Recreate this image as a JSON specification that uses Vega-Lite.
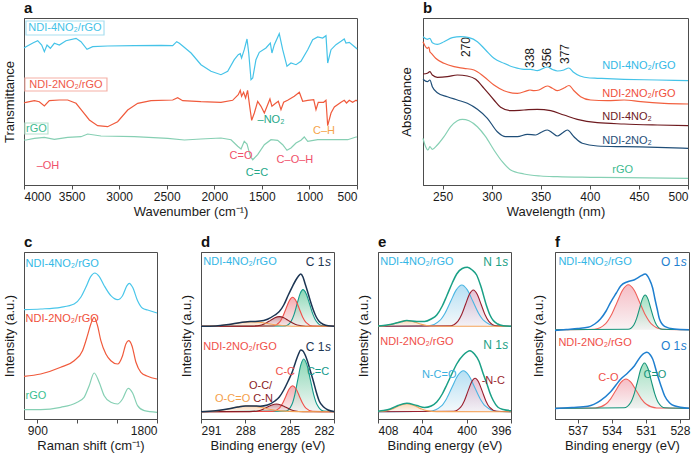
{
"$schema": "https://vega.github.io/schema/vega-lite/v6.json",
"autosize": {"type": "pad"},
"padding": {"left": 2, "top": 0, "right": 0, "bottom": 0},
"background": "white",
"config": {
  "font": "Liberation Sans",
  "view": {"stroke": "#4d4d4d", "strokeWidth": 1},
  "axis": {"grid": false, "labelFontSize": 12, "titleFontSize": 13, "titleFontWeight": "normal", "labelColor": "#1a1a1a", "titleColor": "#1a1a1a", "domainColor": "#4d4d4d", "tickColor": "#4d4d4d", "tickSize": 4, "labelPadding": 2, "titlePadding": 3, "labelFont": "Liberation Sans", "titleFont": "Liberation Sans"},
  "axisY": {"labels": false, "ticks": false, "titlePadding": 8},
  "title": {"anchor": "start", "fontSize": 15, "fontWeight": "bold", "offset": 2, "color": "#111111", "frame": "group", "font": "Liberation Sans"},
  "text": {"font": "Liberation Sans", "fontSize": 11}
},
"datasets": {
  "bandsA": [
    {"k":"OH","x":3814,"x2":3734},{"k":"C=O","x":1772,"x2":1719},{"k":"C=C","x":1632,"x2":1580},
    {"k":"NO2","x":1490,"x2":1452},{"k":"NO2","x":1420,"x2":1382},{"k":"C-O-H","x":1309,"x2":1201},
    {"k":"C-H","x":938,"x2":896},{"k":"C-H","x":826,"x2":773}
  ],
  "boxesA": [
    {"s":"4r","x":3979,"x2":3159,"y":164,"y2":150},
    {"s":"2r","x":3990,"x2":3128,"y":107,"y2":94},
    {"s":"r","x":3990,"x2":3748,"y":62,"y2":51}
  ],
  "labelsA": [
    {"t":"NDI-4NO₂/rGO","x":3569,"y":157,"k":"4r"},
    {"t":"NDI-2NO₂/rGO","x":3559,"y":100.5,"k":"2r"},
    {"t":"rGO","x":3869,"y":56.5,"k":"r"},
    {"t":"–OH","x":3748,"y":19,"k":"ox"},
    {"t":"C=O","x":1719,"y":29,"k":"ox"},
    {"t":"C=C","x":1551,"y":12,"k":"cc"},
    {"t":"–NO₂","x":1404,"y":65,"k":"cc"},
    {"t":"C–O–H","x":1152,"y":25,"k":"ox"},
    {"t":"C–H","x":847,"y":54,"k":"ch"}
  ],
  "ftir": [
    {"s":"4r","x":4000,"y":137},{"s":"4r","x":3979,"y":138.3},{"s":"4r","x":3902,"y":142.3},{"s":"4r","x":3856,"y":144.3},{"s":"4r","x":3814,"y":140},{"s":"4r","x":3786,"y":133.3},{"s":"4r","x":3758,"y":140},{"s":"4r","x":3723,"y":136.7},{"s":"4r","x":3681,"y":141.7},{"s":"4r","x":3629,"y":140},{"s":"4r","x":3559,"y":144.3},{"s":"4r","x":3453,"y":146.7},{"s":"4r","x":3401,"y":143.3},{"s":"4r","x":3338,"y":135.7},{"s":"4r","x":3278,"y":138.3},{"s":"4r","x":3121,"y":139},{"s":"4r","x":2840,"y":139.3},{"s":"4r","x":2560,"y":139.7},{"s":"4r","x":2437,"y":139.3},{"s":"4r","x":2395,"y":143.3},{"s":"4r","x":2367,"y":141.7},{"s":"4r","x":2332,"y":139},{"s":"4r","x":2244,"y":132},{"s":"4r","x":2140,"y":120.3},{"s":"4r","x":2035,"y":113.7},{"s":"4r","x":1930,"y":110.3},{"s":"4r","x":1859,"y":113.7},{"s":"4r","x":1790,"y":125.3},{"s":"4r","x":1748,"y":130.3},{"s":"4r","x":1727,"y":131.3},{"s":"4r","x":1713,"y":127},{"s":"4r","x":1685,"y":135.3},{"s":"4r","x":1656,"y":146},{"s":"4r","x":1638,"y":132},{"s":"4r","x":1614,"y":105.3},{"s":"4r","x":1596,"y":107},{"s":"4r","x":1562,"y":125.3},{"s":"4r","x":1527,"y":132.7},{"s":"4r","x":1457,"y":137},{"s":"4r","x":1411,"y":142},{"s":"4r","x":1394,"y":132},{"s":"4r","x":1369,"y":140.3},{"s":"4r","x":1317,"y":151.3},{"s":"4r","x":1281,"y":135.3},{"s":"4r","x":1236,"y":118.7},{"s":"4r","x":1194,"y":122},{"s":"4r","x":1141,"y":120.3},{"s":"4r","x":1089,"y":123.7},{"s":"4r","x":1018,"y":135.3},{"s":"4r","x":966,"y":145.3},{"s":"4r","x":913,"y":148},{"s":"4r","x":861,"y":147},{"s":"4r","x":826,"y":149.3},{"s":"4r","x":808,"y":122},{"s":"4r","x":773,"y":135.3},{"s":"4r","x":721,"y":140.3},{"s":"4r","x":668,"y":143.7},{"s":"4r","x":634,"y":146},{"s":"4r","x":616,"y":142},{"s":"4r","x":581,"y":142.7},{"s":"4r","x":510,"y":137},{"s":"4r","x":500,"y":136},
    {"s":"2r","x":4000,"y":82},{"s":"2r","x":3979,"y":82.7},{"s":"2r","x":3891,"y":84.3},{"s":"2r","x":3839,"y":83.3},{"s":"2r","x":3786,"y":79},{"s":"2r","x":3734,"y":84.3},{"s":"2r","x":3629,"y":85},{"s":"2r","x":3541,"y":85},{"s":"2r","x":3453,"y":81.7},{"s":"2r","x":3383,"y":73.3},{"s":"2r","x":3313,"y":65},{"s":"2r","x":3226,"y":59.3},{"s":"2r","x":3121,"y":58.3},{"s":"2r","x":3016,"y":63.3},{"s":"2r","x":2910,"y":75},{"s":"2r","x":2805,"y":81.7},{"s":"2r","x":2665,"y":84.3},{"s":"2r","x":2437,"y":85},{"s":"2r","x":2385,"y":87.3},{"s":"2r","x":2332,"y":84.3},{"s":"2r","x":2140,"y":83.3},{"s":"2r","x":1930,"y":82.7},{"s":"2r","x":1807,"y":84.7},{"s":"2r","x":1748,"y":90.3},{"s":"2r","x":1727,"y":94.7},{"s":"2r","x":1713,"y":88.7},{"s":"2r","x":1692,"y":92.7},{"s":"2r","x":1671,"y":87},{"s":"2r","x":1650,"y":94.7},{"s":"2r","x":1628,"y":78.7},{"s":"2r","x":1607,"y":64.7},{"s":"2r","x":1579,"y":72},{"s":"2r","x":1544,"y":83.7},{"s":"2r","x":1509,"y":78.7},{"s":"2r","x":1474,"y":72},{"s":"2r","x":1439,"y":80.3},{"s":"2r","x":1415,"y":86},{"s":"2r","x":1394,"y":78.7},{"s":"2r","x":1362,"y":81.3},{"s":"2r","x":1327,"y":83.7},{"s":"2r","x":1299,"y":75.3},{"s":"2r","x":1271,"y":82.7},{"s":"2r","x":1229,"y":84.7},{"s":"2r","x":1159,"y":88.7},{"s":"2r","x":1106,"y":92.7},{"s":"2r","x":1071,"y":83.7},{"s":"2r","x":1018,"y":84.7},{"s":"2r","x":955,"y":85.3},{"s":"2r","x":931,"y":75.3},{"s":"2r","x":907,"y":82.7},{"s":"2r","x":851,"y":82.7},{"s":"2r","x":826,"y":84.7},{"s":"2r","x":808,"y":59.3},{"s":"2r","x":773,"y":72},{"s":"2r","x":738,"y":78},{"s":"2r","x":668,"y":82.7},{"s":"2r","x":634,"y":84.7},{"s":"2r","x":610,"y":82},{"s":"2r","x":581,"y":84.7},{"s":"2r","x":546,"y":82.7},{"s":"2r","x":510,"y":84.7},{"s":"2r","x":500,"y":84},
    {"s":"r","x":4000,"y":45},{"s":"r","x":3979,"y":45},{"s":"r","x":3891,"y":46.7},{"s":"r","x":3786,"y":47.7},{"s":"r","x":3681,"y":45.7},{"s":"r","x":3541,"y":47.7},{"s":"r","x":3401,"y":48.3},{"s":"r","x":3331,"y":51},{"s":"r","x":3191,"y":49},{"s":"r","x":2840,"y":48.3},{"s":"r","x":2489,"y":46.7},{"s":"r","x":2314,"y":45},{"s":"r","x":2140,"y":46},{"s":"r","x":1930,"y":47},{"s":"r","x":1824,"y":45.3},{"s":"r","x":1754,"y":38.7},{"s":"r","x":1719,"y":36},{"s":"r","x":1685,"y":43.7},{"s":"r","x":1656,"y":41},{"s":"r","x":1621,"y":28.7},{"s":"r","x":1596,"y":25.3},{"s":"r","x":1544,"y":30.3},{"s":"r","x":1474,"y":40.3},{"s":"r","x":1404,"y":45.3},{"s":"r","x":1334,"y":44.7},{"s":"r","x":1281,"y":40.3},{"s":"r","x":1236,"y":34.7},{"s":"r","x":1194,"y":37},{"s":"r","x":1141,"y":42},{"s":"r","x":1089,"y":44.7},{"s":"r","x":1054,"y":48},{"s":"r","x":1018,"y":43.7},{"s":"r","x":913,"y":45.3},{"s":"r","x":738,"y":45.3},{"s":"r","x":598,"y":45.3},{"s":"r","x":510,"y":48},{"s":"r","x":500,"y":48}
  ],
  "bandsB": [{"k":"270","x":267.4,"x2":279.2},{"k":"338","x":335.6,"x2":342.1},{"k":"356","x":353.3,"x2":359.1},{"k":"377","x":372,"x2":377.7}],
  "bandLabB": [{"t":"270","x":273.5,"y":138},{"t":"338","x":339,"y":127},{"t":"356","x":356,"y":127},{"t":"377","x":375,"y":131}],
  "labelsB": [
    {"t":"NDI-4NO₂/rGO","x":412.7,"y":119,"s":"4r"},{"t":"NDI-2NO₂/rGO","x":412.7,"y":91,"s":"2r"},
    {"t":"NDI-4NO₂","x":412.7,"y":67.7,"s":"4"},{"t":"NDI-2NO₂","x":412.7,"y":44.3,"s":"2"},{"t":"rGO","x":422.9,"y":15,"s":"r"}
  ],
  "uv": [
    {"s":"4r","x":230,"y":148.3},{"s":"4r","x":234.4,"y":145.7},{"s":"4r","x":237,"y":146.7},{"s":"4r","x":239.5,"y":142.3},{"s":"4r","x":244.6,"y":140.7},{"s":"4r","x":251.4,"y":143.3},{"s":"4r","x":259.9,"y":147.3},{"s":"4r","x":268.4,"y":148.3},{"s":"4r","x":276.9,"y":147.3},{"s":"4r","x":285.4,"y":143.3},{"s":"4r","x":293.8,"y":135},{"s":"4r","x":302.3,"y":126.7},{"s":"4r","x":312.5,"y":121.7},{"s":"4r","x":322.7,"y":117.7},{"s":"4r","x":332.9,"y":115.7},{"s":"4r","x":339.7,"y":115.7},{"s":"4r","x":346.5,"y":114.3},{"s":"4r","x":356.7,"y":118},{"s":"4r","x":362,"y":115.5},{"s":"4r","x":367,"y":114},{"s":"4r","x":373.6,"y":115},{"s":"4r","x":378.5,"y":117},{"s":"4r","x":383,"y":113},{"s":"4r","x":390,"y":109},{"s":"4r","x":400,"y":107},{"s":"4r","x":407.6,"y":106.7},{"s":"4r","x":434.8,"y":105.7},{"s":"4r","x":468.8,"y":105},{"s":"4r","x":500,"y":104.3},
    {"s":"2r","x":230,"y":143.3},{"s":"2r","x":234.4,"y":136.7},{"s":"2r","x":236,"y":138},{"s":"2r","x":237,"y":133.3},{"s":"2r","x":238.5,"y":131.7},{"s":"2r","x":242.9,"y":126.7},{"s":"2r","x":251.4,"y":121.7},{"s":"2r","x":261.6,"y":118.3},{"s":"2r","x":271.8,"y":116.7},{"s":"2r","x":282,"y":115},{"s":"2r","x":292.2,"y":108.3},{"s":"2r","x":302.3,"y":100},{"s":"2r","x":312.5,"y":94.3},{"s":"2r","x":326.1,"y":91.7},{"s":"2r","x":336.3,"y":94.3},{"s":"2r","x":339,"y":95},{"s":"2r","x":343.1,"y":94.3},{"s":"2r","x":348.2,"y":95},{"s":"2r","x":356.7,"y":99},{"s":"2r","x":361.8,"y":96.7},{"s":"2r","x":366.9,"y":94.3},{"s":"2r","x":373.6,"y":97},{"s":"2r","x":378.8,"y":99.5},{"s":"2r","x":383.8,"y":94.3},{"s":"2r","x":390.6,"y":88.3},{"s":"2r","x":400.8,"y":85},{"s":"2r","x":417.8,"y":84.3},{"s":"2r","x":434.8,"y":85},{"s":"2r","x":451.8,"y":83.3},{"s":"2r","x":475.6,"y":81.7},{"s":"2r","x":500,"y":81},
    {"s":"4","x":230,"y":111},{"s":"4","x":234.4,"y":111.7},{"s":"4","x":237,"y":113.3},{"s":"4","x":239.5,"y":110},{"s":"4","x":244.6,"y":107.7},{"s":"4","x":254.8,"y":108.3},{"s":"4","x":265,"y":110},{"s":"4","x":275.2,"y":109},{"s":"4","x":283.7,"y":105.7},{"s":"4","x":292.2,"y":96.7},{"s":"4","x":302.3,"y":85},{"s":"4","x":309.1,"y":77.7},{"s":"4","x":319.3,"y":74.3},{"s":"4","x":332.9,"y":75},{"s":"4","x":346.5,"y":75.7},{"s":"4","x":360.1,"y":74.3},{"s":"4","x":373.6,"y":70},{"s":"4","x":387.2,"y":65.7},{"s":"4","x":407.6,"y":62.3},{"s":"4","x":434.8,"y":61},{"s":"4","x":468.8,"y":60},{"s":"4","x":500,"y":59.3},
    {"s":"2","x":230,"y":105.7},{"s":"2","x":234.4,"y":103.3},{"s":"2","x":237,"y":105},{"s":"2","x":239.5,"y":98.3},{"s":"2","x":244.6,"y":92.3},{"s":"2","x":254.8,"y":88.3},{"s":"2","x":265,"y":85},{"s":"2","x":275.2,"y":81.7},{"s":"2","x":285.4,"y":75.7},{"s":"2","x":295.6,"y":66.7},{"s":"2","x":305.7,"y":53.3},{"s":"2","x":314.2,"y":48.3},{"s":"2","x":326.1,"y":48.3},{"s":"2","x":336.3,"y":50.7},{"s":"2","x":344.8,"y":50},{"s":"2","x":351,"y":53},{"s":"2","x":356.7,"y":55},{"s":"2","x":362,"y":52},{"s":"2","x":366.9,"y":49},{"s":"2","x":372,"y":52},{"s":"2","x":377.1,"y":55},{"s":"2","x":383.8,"y":48.3},{"s":"2","x":392.3,"y":41.7},{"s":"2","x":407.6,"y":39},{"s":"2","x":434.8,"y":38.3},{"s":"2","x":468.8,"y":37.7},{"s":"2","x":500,"y":36.7},
    {"s":"r","x":230,"y":46.7},{"s":"r","x":232.7,"y":38.3},{"s":"r","x":235.1,"y":35},{"s":"r","x":237,"y":38.3},{"s":"r","x":239.5,"y":35.7},{"s":"r","x":244.6,"y":40},{"s":"r","x":251.4,"y":48.3},{"s":"r","x":258.2,"y":58.3},{"s":"r","x":265,"y":64.3},{"s":"r","x":270.1,"y":65.7},{"s":"r","x":276.9,"y":64.3},{"s":"r","x":285.4,"y":58.3},{"s":"r","x":293.8,"y":48.3},{"s":"r","x":302.3,"y":35},{"s":"r","x":310.8,"y":23.3},{"s":"r","x":319.3,"y":15},{"s":"r","x":332.9,"y":11},{"s":"r","x":349.9,"y":9},{"s":"r","x":366.9,"y":8.3},{"s":"r","x":400.8,"y":7.7},{"s":"r","x":434.8,"y":7.3},{"s":"r","x":500,"y":6.7}
  ],
  "labelsC": [{"t":"NDI-4NO₂/rGO","x":812,"y":155,"s":"4r"},{"t":"NDI-2NO₂/rGO","x":812,"y":100,"s":"2r"},{"t":"rGO","x":812,"y":23.3,"s":"r"}],
  "raman": [
    {"s":"4r","x":800,"y":109.3},{"s":"4r","x":925.6,"y":110},{"s":"4r","x":1076,"y":111.7},{"s":"4r","x":1177,"y":115},{"s":"4r","x":1227,"y":121.7},{"s":"4r","x":1265,"y":131.7},{"s":"4r","x":1302.5,"y":142.7},{"s":"4r","x":1332.7,"y":146},{"s":"4r","x":1365,"y":142.7},{"s":"4r","x":1403,"y":133.3},{"s":"4r","x":1453,"y":123.3},{"s":"4r","x":1503.5,"y":119.3},{"s":"4r","x":1541,"y":123.3},{"s":"4r","x":1574,"y":133.3},{"s":"4r","x":1591.5,"y":135.7},{"s":"4r","x":1616.6,"y":131.7},{"s":"4r","x":1654,"y":118.3},{"s":"4r","x":1692,"y":110.7},{"s":"4r","x":1729.6,"y":109},{"s":"4r","x":1800,"y":106},
    {"s":"2r","x":800,"y":42.7},{"s":"2r","x":925.6,"y":45},{"s":"2r","x":1076,"y":51.7},{"s":"2r","x":1177,"y":58.3},{"s":"2r","x":1240,"y":68.3},{"s":"2r","x":1277,"y":83.3},{"s":"2r","x":1302.5,"y":95},{"s":"2r","x":1327.6,"y":101.7},{"s":"2r","x":1352.8,"y":93.3},{"s":"2r","x":1377.9,"y":78.3},{"s":"2r","x":1415.6,"y":65},{"s":"2r","x":1453,"y":58.3},{"s":"2r","x":1503.5,"y":55},{"s":"2r","x":1541,"y":63.3},{"s":"2r","x":1566,"y":75},{"s":"2r","x":1586.4,"y":78.3},{"s":"2r","x":1611.5,"y":73.3},{"s":"2r","x":1641.7,"y":56.7},{"s":"2r","x":1679,"y":46.7},{"s":"2r","x":1729.6,"y":42.7},{"s":"2r","x":1800,"y":40},
    {"s":"r","x":800,"y":9.3},{"s":"r","x":925.6,"y":9.3},{"s":"r","x":1076,"y":11.7},{"s":"r","x":1189.4,"y":16},{"s":"r","x":1252,"y":21.7},{"s":"r","x":1290,"y":33.3},{"s":"r","x":1327.6,"y":46},{"s":"r","x":1365,"y":36.7},{"s":"r","x":1403,"y":23.3},{"s":"r","x":1453,"y":16.7},{"s":"r","x":1503.5,"y":15},{"s":"r","x":1541,"y":20},{"s":"r","x":1584,"y":30.7},{"s":"r","x":1616.6,"y":26},{"s":"r","x":1654,"y":13.3},{"s":"r","x":1704.5,"y":8.3},{"s":"r","x":1800,"y":6.7}
  ],
  "xpsD": [
    {"g":"t","k":"CdC","x":282,"y":92.7,"b":92.7},{"g":"t","k":"CdC","x":282.75,"y":93.1,"b":92.7},{"g":"t","k":"CdC","x":283.2,"y":97.7,"b":92.7},{"g":"t","k":"CdC","x":283.425,"y":104.6,"b":92.7},{"g":"t","k":"CdC","x":283.65,"y":115,"b":92.7},{"g":"t","k":"CdC","x":283.875,"y":125.1,"b":92.7},{"g":"t","k":"CdC","x":284.1,"y":129.4,"b":92.7},{"g":"t","k":"CdC","x":284.3,"y":125.1,"b":92.7},{"g":"t","k":"CdC","x":284.5,"y":115,"b":92.7},{"g":"t","k":"CdC","x":284.7,"y":104.6,"b":92.7},{"g":"t","k":"CdC","x":284.9,"y":97.7,"b":92.7},{"g":"t","k":"CdC","x":285.3,"y":93.1,"b":92.7},{"g":"t","k":"CdC","x":291,"y":92.7,"b":92.7},
    {"g":"t","k":"CC","x":282,"y":92.7,"b":92.7},{"g":"t","k":"CC","x":283.45,"y":93,"b":92.7},{"g":"t","k":"CC","x":283.9,"y":96.6,"b":92.7},{"g":"t","k":"CC","x":284.125,"y":102.1,"b":92.7},{"g":"t","k":"CC","x":284.35,"y":110.3,"b":92.7},{"g":"t","k":"CC","x":284.575,"y":118.3,"b":92.7},{"g":"t","k":"CC","x":284.8,"y":121.7,"b":92.7},{"g":"t","k":"CC","x":285.025,"y":118.3,"b":92.7},{"g":"t","k":"CC","x":285.25,"y":110.3,"b":92.7},{"g":"t","k":"CC","x":285.475,"y":102.1,"b":92.7},{"g":"t","k":"CC","x":285.7,"y":96.6,"b":92.7},{"g":"t","k":"CC","x":286.15,"y":93,"b":92.7},{"g":"t","k":"CC","x":291,"y":92.7,"b":92.7},
    {"g":"t","k":"OCN","x":282,"y":92.7,"b":92.7},{"g":"t","k":"OCN","x":283.9,"y":92.8,"b":92.7},{"g":"t","k":"OCN","x":284.5,"y":94,"b":92.7},{"g":"t","k":"OCN","x":284.8,"y":95.9,"b":92.7},{"g":"t","k":"OCN","x":285.1,"y":98.6,"b":92.7},{"g":"t","k":"OCN","x":285.4,"y":101.3,"b":92.7},{"g":"t","k":"OCN","x":285.7,"y":102.4,"b":92.7},{"g":"t","k":"OCN","x":286,"y":101.3,"b":92.7},{"g":"t","k":"OCN","x":286.3,"y":98.6,"b":92.7},{"g":"t","k":"OCN","x":286.6,"y":95.9,"b":92.7},{"g":"t","k":"OCN","x":286.9,"y":94,"b":92.7},{"g":"t","k":"OCN","x":287.5,"y":92.8,"b":92.7},{"g":"t","k":"OCN","x":291,"y":92.7,"b":92.7},
    {"g":"t","k":"OCO","x":282,"y":92.7,"b":92.7},{"g":"t","k":"OCO","x":284.3,"y":92.75,"b":92.7},{"g":"t","k":"OCO","x":285.4,"y":93.3,"b":92.7},{"g":"t","k":"OCO","x":285.95,"y":94.2,"b":92.7},{"g":"t","k":"OCO","x":286.5,"y":95.5,"b":92.7},{"g":"t","k":"OCO","x":287.05,"y":96.8,"b":92.7},{"g":"t","k":"OCO","x":287.6,"y":97.4,"b":92.7},{"g":"t","k":"OCO","x":288.15,"y":96.8,"b":92.7},{"g":"t","k":"OCO","x":288.7,"y":95.5,"b":92.7},{"g":"t","k":"OCO","x":289.25,"y":94.2,"b":92.7},{"g":"t","k":"OCO","x":289.8,"y":93.3,"b":92.7},{"g":"t","k":"OCO","x":290.9,"y":92.75,"b":92.7},{"g":"t","k":"OCO","x":291,"y":92.7,"b":92.7},
    {"g":"t","k":"env","x":291,"y":92.7,"b":92.7},{"g":"t","k":"env","x":290,"y":93.1,"b":92.7},{"g":"t","k":"env","x":289,"y":94.8,"b":92.7},{"g":"t","k":"env","x":288.5,"y":96.1,"b":92.7},{"g":"t","k":"env","x":288,"y":97.1,"b":92.7},{"g":"t","k":"env","x":287.5,"y":97.5,"b":92.7},{"g":"t","k":"env","x":287,"y":97.9,"b":92.7},{"g":"t","k":"env","x":286.5,"y":99.8,"b":92.7},{"g":"t","k":"env","x":286,"y":104,"b":92.7},{"g":"t","k":"env","x":285.7,"y":107.4,"b":92.7},{"g":"t","k":"env","x":285.4,"y":114,"b":92.7},{"g":"t","k":"env","x":285.1,"y":123.7,"b":92.7},{"g":"t","k":"env","x":284.8,"y":132.9,"b":92.7},{"g":"t","k":"env","x":284.6,"y":138.5,"b":92.7},{"g":"t","k":"env","x":284.4,"y":143,"b":92.7},{"g":"t","k":"env","x":284.25,"y":145,"b":92.7},{"g":"t","k":"env","x":284.1,"y":142,"b":92.7},{"g":"t","k":"env","x":283.95,"y":135,"b":92.7},{"g":"t","k":"env","x":283.8,"y":128,"b":92.7},{"g":"t","k":"env","x":283.6,"y":118,"b":92.7},{"g":"t","k":"env","x":283.4,"y":109,"b":92.7},{"g":"t","k":"env","x":283.2,"y":102,"b":92.7},{"g":"t","k":"env","x":283,"y":97.5,"b":92.7},{"g":"t","k":"env","x":282.7,"y":94.5,"b":92.7},{"g":"t","k":"env","x":282.4,"y":93.2,"b":92.7},{"g":"t","k":"env","x":282,"y":92.7,"b":92.7},
    {"g":"b","k":"CdC","x":282,"y":7.3,"b":7.3},{"g":"b","k":"CdC","x":282.7,"y":7.9,"b":7.3},{"g":"b","k":"CdC","x":283.15,"y":14.4,"b":7.3},{"g":"b","k":"CdC","x":283.375,"y":24.4,"b":7.3},{"g":"b","k":"CdC","x":283.6,"y":39.3,"b":7.3},{"g":"b","k":"CdC","x":283.825,"y":53.8,"b":7.3},{"g":"b","k":"CdC","x":284.05,"y":60,"b":7.3},{"g":"b","k":"CdC","x":284.25,"y":53.8,"b":7.3},{"g":"b","k":"CdC","x":284.45,"y":39.3,"b":7.3},{"g":"b","k":"CdC","x":284.65,"y":24.4,"b":7.3},{"g":"b","k":"CdC","x":284.85,"y":14.4,"b":7.3},{"g":"b","k":"CdC","x":285.25,"y":7.9,"b":7.3},{"g":"b","k":"CdC","x":291,"y":7.3,"b":7.3},
    {"g":"b","k":"CC","x":282,"y":7.3,"b":7.3},{"g":"b","k":"CC","x":283.45,"y":7.6,"b":7.3},{"g":"b","k":"CC","x":283.9,"y":10.8,"b":7.3},{"g":"b","k":"CC","x":284.125,"y":15.7,"b":7.3},{"g":"b","k":"CC","x":284.35,"y":23.1,"b":7.3},{"g":"b","k":"CC","x":284.575,"y":30.2,"b":7.3},{"g":"b","k":"CC","x":284.8,"y":33.3,"b":7.3},{"g":"b","k":"CC","x":285.025,"y":30.2,"b":7.3},{"g":"b","k":"CC","x":285.25,"y":23.1,"b":7.3},{"g":"b","k":"CC","x":285.475,"y":15.7,"b":7.3},{"g":"b","k":"CC","x":285.7,"y":10.8,"b":7.3},{"g":"b","k":"CC","x":286.15,"y":7.6,"b":7.3},{"g":"b","k":"CC","x":291,"y":7.3,"b":7.3},
    {"g":"b","k":"OCN","x":282,"y":7.3,"b":7.3},{"g":"b","k":"OCN","x":284.1,"y":7.4,"b":7.3},{"g":"b","k":"OCN","x":284.7,"y":8.3,"b":7.3},{"g":"b","k":"OCN","x":285,"y":9.8,"b":7.3},{"g":"b","k":"OCN","x":285.3,"y":12,"b":7.3},{"g":"b","k":"OCN","x":285.6,"y":14.1,"b":7.3},{"g":"b","k":"OCN","x":285.9,"y":15,"b":7.3},{"g":"b","k":"OCN","x":286.2,"y":14.1,"b":7.3},{"g":"b","k":"OCN","x":286.5,"y":12,"b":7.3},{"g":"b","k":"OCN","x":286.8,"y":9.8,"b":7.3},{"g":"b","k":"OCN","x":287.1,"y":8.3,"b":7.3},{"g":"b","k":"OCN","x":287.7,"y":7.4,"b":7.3},{"g":"b","k":"OCN","x":291,"y":7.3,"b":7.3},
    {"g":"b","k":"OCO","x":282,"y":7.3,"b":7.3},{"g":"b","k":"OCO","x":284.5,"y":7.4,"b":7.3},{"g":"b","k":"OCO","x":285.6,"y":8.1,"b":7.3},{"g":"b","k":"OCO","x":286.15,"y":9.2,"b":7.3},{"g":"b","k":"OCO","x":286.7,"y":10.9,"b":7.3},{"g":"b","k":"OCO","x":287.25,"y":12.6,"b":7.3},{"g":"b","k":"OCO","x":287.8,"y":13.3,"b":7.3},{"g":"b","k":"OCO","x":288.35,"y":12.6,"b":7.3},{"g":"b","k":"OCO","x":288.9,"y":10.9,"b":7.3},{"g":"b","k":"OCO","x":289.45,"y":9.2,"b":7.3},{"g":"b","k":"OCO","x":290,"y":8.1,"b":7.3},{"g":"b","k":"OCO","x":291,"y":7.4,"b":7.3},
    {"g":"b","k":"env","x":291,"y":7.3,"b":7.3},{"g":"b","k":"env","x":290,"y":8.3,"b":7.3},{"g":"b","k":"env","x":289,"y":10.5,"b":7.3},{"g":"b","k":"env","x":288.5,"y":12,"b":7.3},{"g":"b","k":"env","x":288,"y":13,"b":7.3},{"g":"b","k":"env","x":287.5,"y":13,"b":7.3},{"g":"b","k":"env","x":287,"y":12.8,"b":7.3},{"g":"b","k":"env","x":286.5,"y":14,"b":7.3},{"g":"b","k":"env","x":286,"y":18,"b":7.3},{"g":"b","k":"env","x":285.7,"y":22,"b":7.3},{"g":"b","k":"env","x":285.4,"y":29,"b":7.3},{"g":"b","k":"env","x":285.1,"y":38,"b":7.3},{"g":"b","k":"env","x":284.8,"y":48,"b":7.3},{"g":"b","k":"env","x":284.6,"y":57,"b":7.3},{"g":"b","k":"env","x":284.4,"y":65,"b":7.3},{"g":"b","k":"env","x":284.25,"y":69,"b":7.3},{"g":"b","k":"env","x":284.1,"y":68,"b":7.3},{"g":"b","k":"env","x":283.95,"y":64,"b":7.3},{"g":"b","k":"env","x":283.8,"y":58,"b":7.3},{"g":"b","k":"env","x":283.6,"y":48,"b":7.3},{"g":"b","k":"env","x":283.4,"y":38,"b":7.3},{"g":"b","k":"env","x":283.2,"y":27,"b":7.3},{"g":"b","k":"env","x":283,"y":18,"b":7.3},{"g":"b","k":"env","x":282.7,"y":12,"b":7.3},{"g":"b","k":"env","x":282.4,"y":9,"b":7.3},{"g":"b","k":"env","x":282,"y":7.5,"b":7.3}
  ],
  "headD": [{"t":"NDI-4NO₂/rGO","x":290.84,"y":156.7,"k":"4r"},{"t":"NDI-2NO₂/rGO","x":290.84,"y":71.7,"k":"2r"}],
  "specD": [{"t":"C 1","x":282.2,"y":156.7},{"t":"C 1","x":282.2,"y":71.7}],
  "compD": [{"t":"C-C","x":285.3,"y":46.7,"k":"CC"},{"t":"C=C","x":283.08,"y":46.7,"k":"CdC"},{"t":"O-C/","x":286.97,"y":33.3,"k":"OCN"},{"t":"C-N","x":286.8,"y":20,"k":"OCN"},{"t":"O-C=O","x":288.86,"y":20,"k":"OCO"}],
  "xpsE": [
    {"g":"t","k":"NCO","x":396,"y":92.7,"b":92.7},{"g":"t","k":"NCO","x":397.44,"y":93.2,"b":92.7},{"g":"t","k":"NCO","x":398.44,"y":98.3,"b":92.7},{"g":"t","k":"NCO","x":398.94,"y":106.1,"b":92.7},{"g":"t","k":"NCO","x":399.44,"y":117.7,"b":92.7},{"g":"t","k":"NCO","x":399.94,"y":129.1,"b":92.7},{"g":"t","k":"NCO","x":400.44,"y":134,"b":92.7},{"g":"t","k":"NCO","x":400.94,"y":129.1,"b":92.7},{"g":"t","k":"NCO","x":401.44,"y":117.7,"b":92.7},{"g":"t","k":"NCO","x":401.94,"y":106.1,"b":92.7},{"g":"t","k":"NCO","x":402.44,"y":98.3,"b":92.7},{"g":"t","k":"NCO","x":403.44,"y":93.2,"b":92.7},{"g":"t","k":"NCO","x":408,"y":92.7,"b":92.7},
    {"g":"t","k":"NC","x":396,"y":92.7,"b":92.7},{"g":"t","k":"NC","x":397.3,"y":93.1,"b":92.7},{"g":"t","k":"NC","x":398,"y":97.6,"b":92.7},{"g":"t","k":"NC","x":398.35,"y":104.5,"b":92.7},{"g":"t","k":"NC","x":398.7,"y":114.7,"b":92.7},{"g":"t","k":"NC","x":399.05,"y":124.7,"b":92.7},{"g":"t","k":"NC","x":399.4,"y":129,"b":92.7},{"g":"t","k":"NC","x":399.75,"y":124.7,"b":92.7},{"g":"t","k":"NC","x":400.1,"y":114.7,"b":92.7},{"g":"t","k":"NC","x":400.45,"y":104.5,"b":92.7},{"g":"t","k":"NC","x":400.8,"y":97.6,"b":92.7},{"g":"t","k":"NC","x":401.5,"y":93.1,"b":92.7},{"g":"t","k":"NC","x":408,"y":92.7,"b":92.7},
    {"g":"t","k":"sat","x":396,"y":92.7,"b":92.7},{"g":"t","k":"sat","x":402.7,"y":92.8,"b":92.7},{"g":"t","k":"sat","x":403.6,"y":93.5,"b":92.7},{"g":"t","k":"sat","x":404.05,"y":94.6,"b":92.7},{"g":"t","k":"sat","x":404.5,"y":96.2,"b":92.7},{"g":"t","k":"sat","x":404.95,"y":97.7,"b":92.7},{"g":"t","k":"sat","x":405.4,"y":98.4,"b":92.7},{"g":"t","k":"sat","x":405.85,"y":97.7,"b":92.7},{"g":"t","k":"sat","x":406.3,"y":96.2,"b":92.7},{"g":"t","k":"sat","x":406.75,"y":94.6,"b":92.7},{"g":"t","k":"sat","x":407.2,"y":93.5,"b":92.7},{"g":"t","k":"sat","x":408,"y":92.8,"b":92.7},
    {"g":"t","k":"env","x":408,"y":93,"b":92.7},{"g":"t","k":"env","x":407.5,"y":93.5,"b":92.7},{"g":"t","k":"env","x":406.9,"y":94.5,"b":92.7},{"g":"t","k":"env","x":406,"y":97,"b":92.7},{"g":"t","k":"env","x":405.4,"y":98.5,"b":92.7},{"g":"t","k":"env","x":404.5,"y":97.5,"b":92.7},{"g":"t","k":"env","x":403.8,"y":97.5,"b":92.7},{"g":"t","k":"env","x":403.2,"y":100,"b":92.7},{"g":"t","k":"env","x":402.7,"y":104,"b":92.7},{"g":"t","k":"env","x":402.2,"y":113,"b":92.7},{"g":"t","k":"env","x":401.8,"y":123,"b":92.7},{"g":"t","k":"env","x":401.3,"y":136,"b":92.7},{"g":"t","k":"env","x":400.9,"y":145,"b":92.7},{"g":"t","k":"env","x":400.4,"y":150.5,"b":92.7},{"g":"t","k":"env","x":399.93,"y":151.7,"b":92.7},{"g":"t","k":"env","x":399.5,"y":149,"b":92.7},{"g":"t","k":"env","x":399.1,"y":144,"b":92.7},{"g":"t","k":"env","x":398.7,"y":132,"b":92.7},{"g":"t","k":"env","x":398.2,"y":113,"b":92.7},{"g":"t","k":"env","x":397.9,"y":104,"b":92.7},{"g":"t","k":"env","x":397.6,"y":98.5,"b":92.7},{"g":"t","k":"env","x":397.2,"y":95,"b":92.7},{"g":"t","k":"env","x":396.7,"y":93.3,"b":92.7},{"g":"t","k":"env","x":396,"y":92.7,"b":92.7},
    {"g":"b","k":"NCO","x":396,"y":7.3,"b":7.3},{"g":"b","k":"NCO","x":397.3,"y":7.8,"b":7.3},{"g":"b","k":"NCO","x":398.3,"y":12.8,"b":7.3},{"g":"b","k":"NCO","x":398.8,"y":20.6,"b":7.3},{"g":"b","k":"NCO","x":399.3,"y":32.2,"b":7.3},{"g":"b","k":"NCO","x":399.8,"y":43.5,"b":7.3},{"g":"b","k":"NCO","x":400.3,"y":48.3,"b":7.3},{"g":"b","k":"NCO","x":400.8,"y":43.5,"b":7.3},{"g":"b","k":"NCO","x":401.3,"y":32.2,"b":7.3},{"g":"b","k":"NCO","x":401.8,"y":20.6,"b":7.3},{"g":"b","k":"NCO","x":402.3,"y":12.8,"b":7.3},{"g":"b","k":"NCO","x":403.3,"y":7.8,"b":7.3},{"g":"b","k":"NCO","x":408,"y":7.3,"b":7.3},
    {"g":"b","k":"NC","x":396,"y":7.3,"b":7.3},{"g":"b","k":"NC","x":397.29,"y":7.7,"b":7.3},{"g":"b","k":"NC","x":397.94,"y":11.8,"b":7.3},{"g":"b","k":"NC","x":398.265,"y":18.1,"b":7.3},{"g":"b","k":"NC","x":398.59,"y":27.6,"b":7.3},{"g":"b","k":"NC","x":398.915,"y":36.8,"b":7.3},{"g":"b","k":"NC","x":399.24,"y":40.7,"b":7.3},{"g":"b","k":"NC","x":399.565,"y":36.8,"b":7.3},{"g":"b","k":"NC","x":399.89,"y":27.6,"b":7.3},{"g":"b","k":"NC","x":400.215,"y":18.1,"b":7.3},{"g":"b","k":"NC","x":400.54,"y":11.8,"b":7.3},{"g":"b","k":"NC","x":401.19,"y":7.7,"b":7.3},{"g":"b","k":"NC","x":408,"y":7.3,"b":7.3},
    {"g":"b","k":"sat","x":396,"y":7.3,"b":7.3},{"g":"b","k":"sat","x":402.7,"y":7.4,"b":7.3},{"g":"b","k":"sat","x":403.6,"y":8.4,"b":7.3},{"g":"b","k":"sat","x":404.05,"y":9.9,"b":7.3},{"g":"b","k":"sat","x":404.5,"y":12.2,"b":7.3},{"g":"b","k":"sat","x":404.95,"y":14.4,"b":7.3},{"g":"b","k":"sat","x":405.4,"y":15.3,"b":7.3},{"g":"b","k":"sat","x":405.85,"y":14.4,"b":7.3},{"g":"b","k":"sat","x":406.3,"y":12.2,"b":7.3},{"g":"b","k":"sat","x":406.75,"y":9.9,"b":7.3},{"g":"b","k":"sat","x":407.2,"y":8.4,"b":7.3},{"g":"b","k":"sat","x":408,"y":7.5,"b":7.3},
    {"g":"b","k":"env","x":408,"y":7.8,"b":7.3},{"g":"b","k":"env","x":407.5,"y":8.5,"b":7.3},{"g":"b","k":"env","x":406.9,"y":10,"b":7.3},{"g":"b","k":"env","x":406.2,"y":13.5,"b":7.3},{"g":"b","k":"env","x":405.4,"y":15.8,"b":7.3},{"g":"b","k":"env","x":404.5,"y":13.5,"b":7.3},{"g":"b","k":"env","x":403.8,"y":11.5,"b":7.3},{"g":"b","k":"env","x":403.2,"y":13,"b":7.3},{"g":"b","k":"env","x":402.7,"y":17,"b":7.3},{"g":"b","k":"env","x":402.2,"y":25,"b":7.3},{"g":"b","k":"env","x":401.8,"y":34,"b":7.3},{"g":"b","k":"env","x":401.3,"y":46,"b":7.3},{"g":"b","k":"env","x":400.9,"y":55,"b":7.3},{"g":"b","k":"env","x":400.3,"y":64,"b":7.3},{"g":"b","k":"env","x":399.7,"y":68.3,"b":7.3},{"g":"b","k":"env","x":399.3,"y":65,"b":7.3},{"g":"b","k":"env","x":398.9,"y":58,"b":7.3},{"g":"b","k":"env","x":398.5,"y":45,"b":7.3},{"g":"b","k":"env","x":398.2,"y":36,"b":7.3},{"g":"b","k":"env","x":397.9,"y":26,"b":7.3},{"g":"b","k":"env","x":397.6,"y":18.5,"b":7.3},{"g":"b","k":"env","x":397.2,"y":12,"b":7.3},{"g":"b","k":"env","x":396.7,"y":9.5,"b":7.3},{"g":"b","k":"env","x":396,"y":8.3,"b":7.3}
  ],
  "headE": [{"t":"NDI-4NO₂/rGO","x":407.8,"y":156.7,"k":"4r"},{"t":"NDI-2NO₂/rGO","x":407.8,"y":76.7,"k":"2r"}],
  "specE": [{"t":"N 1","x":396.24,"y":156.7},{"t":"N 1","x":396.24,"y":74}],
  "compE": [{"t":"N-C=O","x":402.48,"y":44.3,"k":"NCO"},{"t":"-N-C","x":397.6,"y":38.3,"k":"NC"}],
  "xpsF": [
    {"g":"t","k":"CO","x":527.2,"y":89.3,"b":89.3},{"g":"t","k":"CO","x":529.54,"y":89.8,"b":89.3},{"g":"t","k":"CO","x":530.54,"y":95.4,"b":89.3},{"g":"t","k":"CO","x":531.04,"y":103.9,"b":89.3},{"g":"t","k":"CO","x":531.54,"y":116.6,"b":89.3},{"g":"t","k":"CO","x":532.04,"y":129,"b":89.3},{"g":"t","k":"CO","x":532.54,"y":134.3,"b":89.3},{"g":"t","k":"CO","x":533.04,"y":129,"b":89.3},{"g":"t","k":"CO","x":533.54,"y":116.6,"b":89.3},{"g":"t","k":"CO","x":534.04,"y":103.9,"b":89.3},{"g":"t","k":"CO","x":534.54,"y":95.4,"b":89.3},{"g":"t","k":"CO","x":535.54,"y":89.8,"b":89.3},{"g":"t","k":"CO","x":539,"y":89.3,"b":89.3},
    {"g":"t","k":"CdO","x":527.2,"y":89.3,"b":89.3},{"g":"t","k":"CdO","x":529.56,"y":89.7,"b":89.3},{"g":"t","k":"CdO","x":530.06,"y":94,"b":89.3},{"g":"t","k":"CdO","x":530.31,"y":100.6,"b":89.3},{"g":"t","k":"CdO","x":530.56,"y":110.3,"b":89.3},{"g":"t","k":"CdO","x":530.81,"y":119.9,"b":89.3},{"g":"t","k":"CdO","x":531.06,"y":124,"b":89.3},{"g":"t","k":"CdO","x":531.31,"y":119.9,"b":89.3},{"g":"t","k":"CdO","x":531.56,"y":110.3,"b":89.3},{"g":"t","k":"CdO","x":531.81,"y":100.6,"b":89.3},{"g":"t","k":"CdO","x":532.06,"y":94,"b":89.3},{"g":"t","k":"CdO","x":532.56,"y":89.7,"b":89.3},{"g":"t","k":"CdO","x":539,"y":89.3,"b":89.3},
    {"g":"t","k":"env","x":539,"y":88.5,"b":89.3},{"g":"t","k":"env","x":538,"y":89.5,"b":89.3},{"g":"t","k":"env","x":537,"y":90.5,"b":89.3},{"g":"t","k":"env","x":536.1,"y":91.7,"b":89.3},{"g":"t","k":"env","x":535.5,"y":95,"b":89.3},{"g":"t","k":"env","x":535,"y":100,"b":89.3},{"g":"t","k":"env","x":534.5,"y":108,"b":89.3},{"g":"t","k":"env","x":534.1,"y":116.7,"b":89.3},{"g":"t","k":"env","x":533.6,"y":126,"b":89.3},{"g":"t","k":"env","x":533.2,"y":133.3,"b":89.3},{"g":"t","k":"env","x":532.6,"y":137.3,"b":89.3},{"g":"t","k":"env","x":532,"y":139.3,"b":89.3},{"g":"t","k":"env","x":531.4,"y":143.3,"b":89.3},{"g":"t","k":"env","x":531.06,"y":145,"b":89.3},{"g":"t","k":"env","x":530.7,"y":140,"b":89.3},{"g":"t","k":"env","x":530.4,"y":131,"b":89.3},{"g":"t","k":"env","x":530.2,"y":120,"b":89.3},{"g":"t","k":"env","x":530,"y":110,"b":89.3},{"g":"t","k":"env","x":529.8,"y":100,"b":89.3},{"g":"t","k":"env","x":529.35,"y":92.7,"b":89.3},{"g":"t","k":"env","x":528.5,"y":90,"b":89.3},{"g":"t","k":"env","x":527.2,"y":89.3,"b":89.3},
    {"g":"b","k":"CO","x":527.2,"y":10.7,"b":10.7},{"g":"b","k":"CO","x":530.05,"y":11,"b":10.7},{"g":"b","k":"CO","x":530.95,"y":14.7,"b":10.7},{"g":"b","k":"CO","x":531.4,"y":20.2,"b":10.7},{"g":"b","k":"CO","x":531.85,"y":28.5,"b":10.7},{"g":"b","k":"CO","x":532.3,"y":36.6,"b":10.7},{"g":"b","k":"CO","x":532.75,"y":40,"b":10.7},{"g":"b","k":"CO","x":533.2,"y":36.6,"b":10.7},{"g":"b","k":"CO","x":533.65,"y":28.5,"b":10.7},{"g":"b","k":"CO","x":534.1,"y":20.2,"b":10.7},{"g":"b","k":"CO","x":534.55,"y":14.7,"b":10.7},{"g":"b","k":"CO","x":535.45,"y":11,"b":10.7},{"g":"b","k":"CO","x":539,"y":10.7,"b":10.7},
    {"g":"b","k":"CdO","x":527.2,"y":10.7,"b":10.7},{"g":"b","k":"CdO","x":529.32,"y":11.2,"b":10.7},{"g":"b","k":"CdO","x":529.92,"y":16.8,"b":10.7},{"g":"b","k":"CdO","x":530.22,"y":25.4,"b":10.7},{"g":"b","k":"CdO","x":530.52,"y":38.2,"b":10.7},{"g":"b","k":"CdO","x":530.82,"y":50.7,"b":10.7},{"g":"b","k":"CdO","x":531.12,"y":56,"b":10.7},{"g":"b","k":"CdO","x":531.42,"y":50.7,"b":10.7},{"g":"b","k":"CdO","x":531.72,"y":38.2,"b":10.7},{"g":"b","k":"CdO","x":532.02,"y":25.4,"b":10.7},{"g":"b","k":"CdO","x":532.32,"y":16.8,"b":10.7},{"g":"b","k":"CdO","x":532.92,"y":11.2,"b":10.7},{"g":"b","k":"CdO","x":539,"y":10.7,"b":10.7},
    {"g":"b","k":"env","x":539,"y":10.5,"b":10.7},{"g":"b","k":"env","x":537.5,"y":11.5,"b":10.7},{"g":"b","k":"env","x":536.1,"y":12.7,"b":10.7},{"g":"b","k":"env","x":535,"y":18.3,"b":10.7},{"g":"b","k":"env","x":534.1,"y":27.3,"b":10.7},{"g":"b","k":"env","x":533.2,"y":40,"b":10.7},{"g":"b","k":"env","x":532.6,"y":46,"b":10.7},{"g":"b","k":"env","x":532,"y":53.3,"b":10.7},{"g":"b","k":"env","x":531.4,"y":63.3,"b":10.7},{"g":"b","k":"env","x":530.9,"y":66.7,"b":10.7},{"g":"b","k":"env","x":530.6,"y":64,"b":10.7},{"g":"b","k":"env","x":530.4,"y":60,"b":10.7},{"g":"b","k":"env","x":530,"y":45,"b":10.7},{"g":"b","k":"env","x":529.6,"y":31,"b":10.7},{"g":"b","k":"env","x":529.35,"y":23.3,"b":10.7},{"g":"b","k":"env","x":528.9,"y":16,"b":10.7},{"g":"b","k":"env","x":528.5,"y":13.3,"b":10.7},{"g":"b","k":"env","x":527.2,"y":10.7,"b":10.7}
  ],
  "headF": [{"t":"NDI-4NO₂/rGO","x":538.7,"y":156.7,"k":"4r"},{"t":"NDI-2NO₂/rGO","x":538.7,"y":76,"k":"2r"}],
  "specF": [{"t":"O 1","x":527.4,"y":156.7},{"t":"O 1","x":527.4,"y":73.3}],
  "compF": [{"t":"C-O","x":534.3,"y":40.7,"k":"CO"},{"t":"C=O","x":530.2,"y":44,"k":"CdO"}]
},
"vconcat": [
  {
    "hconcat": [
      {
        "width": 333, "height": 167, "title": "a",
        "encoding": {
          "x": {"field": "x", "type": "quantitative", "scale": {"domain": [4000, 500], "nice": false, "zero": false}, "axis": {"values": [4000, 3500, 3000, 2500, 2000, 1500, 1000, 500], "format": "d", "title": "Wavenumber (cm⁻¹)"}},
          "y": {"field": "y", "type": "quantitative", "scale": {"domain": [0, 167], "nice": false, "zero": false}, "axis": {"title": "Transmittance"}}
        },
        "layer": [
          {"data": {"name": "bandsA"}, "mark": {"type": "rect", "opacity": 0.6},
           "encoding": {"x2": {"field": "x2"}, "y": {"datum": 167, "type": "quantitative", "scale": {"domain": [0, 167], "nice": false, "zero": false}, "title": "Transmittance"}, "y2": {"datum": 0},
             "color": {"field": "k", "type": "nominal", "legend": null, "scale": {"domain": ["OH", "C=O", "C=C", "NO2", "C-O-H", "C-H"], "range": ["#f7c6d8", "#f7c6d8", "#c9eef7", "#c9eef7", "#f7c6d8", "#fbe8c2"]}}}},
          {"data": {"name": "boxesA"}, "mark": {"type": "rect", "filled": false, "strokeWidth": 1.2},
           "encoding": {"x2": {"field": "x2"}, "y2": {"field": "y2"},
             "color": {"field": "s", "type": "nominal", "legend": null, "scale": {"domain": ["4r", "2r", "r"], "range": ["#a9dff0", "#f5b0a6", "#b5e2cd"]}}}},
          {"data": {"name": "ftir"}, "mark": {"type": "line", "strokeWidth": 1.2},
           "encoding": {"color": {"field": "s", "type": "nominal", "legend": null, "scale": {"domain": ["4r", "2r", "r"], "range": ["#45c3e8", "#f05a3c", "#86cfb3"]}}}},
          {"data": {"name": "labelsA"}, "mark": {"type": "text", "fontSize": 11},
           "encoding": {"text": {"field": "t"},
             "color": {"field": "k", "type": "nominal", "legend": null, "scale": {"domain": ["4r", "2r", "r", "ox", "cc", "ch"], "range": ["#45c3e8", "#f05a4a", "#3dbb8f", "#f0506a", "#25a889", "#f5a34a"]}}}}
        ],
        "resolve": {"scale": {"color": "independent"}}
      },
      {
        "width": 265, "height": 167, "title": "b",
        "encoding": {
          "x": {"field": "x", "type": "quantitative", "scale": {"domain": [230, 500], "nice": false, "zero": false}, "axis": {"values": [250, 300, 350, 400, 450, 500], "title": "Wavelength (nm)"}},
          "y": {"field": "y", "type": "quantitative", "scale": {"domain": [0, 167], "nice": false, "zero": false}, "axis": {"title": "Absorbance", "titlePadding": 10}}
        },
        "layer": [
          {"data": {"name": "bandsB"}, "mark": {"type": "rect", "opacity": 0.6},
           "encoding": {"x2": {"field": "x2"}, "y": {"datum": 167, "type": "quantitative", "scale": {"domain": [0, 167], "nice": false, "zero": false}, "title": "Absorbance"}, "y2": {"datum": 0},
             "color": {"field": "k", "type": "nominal", "legend": null, "scale": {"domain": ["270", "338", "356", "377"], "range": ["#f7c6d8", "#dcc6f2", "#c9eef7", "#fbe8c2"]}}}},
          {"data": {"name": "bandLabB"}, "mark": {"type": "text", "angle": 270, "fontSize": 12, "color": "#1a1a1a"},
           "encoding": {"text": {"field": "t"}}},
          {"data": {"name": "uv"}, "mark": {"type": "line", "strokeWidth": 1.2, "interpolate": "monotone"},
           "encoding": {"color": {"field": "s", "type": "nominal", "legend": null, "scale": {"domain": ["4r", "2r", "4", "2", "r"], "range": ["#45c3e8", "#f2603f", "#6e1a1f", "#1f4e78", "#86d0b4"]}}}},
          {"data": {"name": "labelsB"}, "mark": {"type": "text", "align": "left", "fontSize": 11},
           "encoding": {"text": {"field": "t"},
             "color": {"field": "s", "type": "nominal", "legend": null, "scale": {"domain": ["4r", "2r", "4", "2", "r"], "range": ["#33b9e6", "#f0503c", "#6e1a1f", "#1f4e78", "#3dbb8f"]}}}}
        ],
        "resolve": {"scale": {"color": "independent"}}
      }
    ],
    "spacing": 66, "bounds": "flush"
  },
  {
    "hconcat": [
      {
        "width": 133, "height": 167, "title": "c",
        "encoding": {
          "x": {"field": "x", "type": "quantitative", "scale": {"domain": [800, 1800], "nice": false, "zero": false}, "axis": {"values": [900, 1200, 1500, 1800], "format": "d", "title": "Raman shift (cm⁻¹)"}},
          "y": {"field": "y", "type": "quantitative", "scale": {"domain": [0, 167], "nice": false, "zero": false}, "axis": {"title": "Intensity (a.u.)"}}
        },
        "layer": [
          {"data": {"name": "raman"}, "mark": {"type": "line", "strokeWidth": 1.2, "interpolate": "monotone"},
           "encoding": {"color": {"field": "s", "type": "nominal", "legend": null, "scale": {"domain": ["4r", "2r", "r"], "range": ["#49c6ea", "#f05a3c", "#86d0b4"]}}}},
          {"data": {"name": "labelsC"}, "mark": {"type": "text", "align": "left", "fontSize": 11},
           "encoding": {"text": {"field": "t"},
             "color": {"field": "s", "type": "nominal", "legend": null, "scale": {"domain": ["4r", "2r", "r"], "range": ["#33b9e6", "#f0503c", "#3bbf91"]}}}}
        ],
        "resolve": {"scale": {"color": "independent"}}
      },
      {
        "width": 133, "height": 167, "title": "d",
        "encoding": {
          "x": {"field": "x", "type": "quantitative", "scale": {"domain": [291, 282], "nice": false, "zero": false}, "axis": {"values": [291, 288, 285, 282], "title": "Binding energy (eV)"}},
          "y": {"field": "y", "type": "quantitative", "scale": {"domain": [0, 167], "nice": false, "zero": false}, "axis": {"title": "Intensity (a.u.)"}}
        },
        "layer": [
          {"data": {"name": "xpsD"}, "transform": [{"filter": "datum.k == 'OCO'"}], "mark": {"type": "area", "interpolate": "monotone", "fillOpacity": 0.65, "fill": {"gradient": "linear", "x1": 0, "y1": 0, "x2": 0, "y2": 1, "stops": [{"offset": 0, "color": "#f8c08a"}, {"offset": 1, "color": "#fdf3ea"}]}},
           "encoding": {"y2": {"field": "b"}, "detail": {"field": "g"}}},
          {"data": {"name": "xpsD"}, "transform": [{"filter": "datum.k == 'OCN'"}], "mark": {"type": "area", "interpolate": "monotone", "fillOpacity": 0.65, "fill": {"gradient": "linear", "x1": 0, "y1": 0, "x2": 0, "y2": 1, "stops": [{"offset": 0, "color": "#b7616e"}, {"offset": 1, "color": "#f3e3e6"}]}},
           "encoding": {"y2": {"field": "b"}, "detail": {"field": "g"}}},
          {"data": {"name": "xpsD"}, "transform": [{"filter": "datum.k == 'CC'"}], "mark": {"type": "area", "interpolate": "monotone", "fillOpacity": 0.65, "fill": {"gradient": "linear", "x1": 0, "y1": 0, "x2": 0, "y2": 1, "stops": [{"offset": 0, "color": "#f07f86"}, {"offset": 1, "color": "#f6e8e8"}]}},
           "encoding": {"y2": {"field": "b"}, "detail": {"field": "g"}}},
          {"data": {"name": "xpsD"}, "transform": [{"filter": "datum.k == 'CdC'"}], "mark": {"type": "area", "interpolate": "monotone", "fillOpacity": 0.65, "fill": {"gradient": "linear", "x1": 0, "y1": 0, "x2": 0, "y2": 1, "stops": [{"offset": 0, "color": "#4cc48f"}, {"offset": 1, "color": "#eef2f0"}]}},
           "encoding": {"y2": {"field": "b"}, "detail": {"field": "g"}}},
          {"data": {"name": "xpsD"}, "transform": [{"filter": "datum.k != 'env'"}], "mark": {"type": "line", "strokeWidth": 1.1, "interpolate": "monotone"},
           "encoding": {"detail": {"field": "g"}, "color": {"field": "k", "type": "nominal", "legend": null, "scale": {"domain": ["CdC", "CC", "OCN", "OCO"], "range": ["#14998a", "#f0504a", "#8b1c24", "#f5a45a"]}}}},
          {"data": {"name": "xpsD"}, "transform": [{"filter": "datum.k == 'env'"}], "mark": {"type": "line", "strokeWidth": 1.5, "interpolate": "monotone", "color": "#1c3553"},
           "encoding": {"detail": {"field": "g"}}},
          {"data": {"name": "headD"}, "mark": {"type": "text", "align": "left", "fontSize": 11},
           "encoding": {"text": {"field": "t"}, "color": {"field": "k", "type": "nominal", "legend": null, "scale": {"domain": ["4r", "2r"], "range": ["#33b5e5", "#f0504a"]}}}},
          {"data": {"name": "compD"}, "mark": {"type": "text", "fontSize": 11},
           "encoding": {"text": {"field": "t"}, "color": {"field": "k", "type": "nominal", "legend": null, "scale": {"domain": ["CdC", "CC", "OCN", "OCO"], "range": ["#14998a", "#f0504a", "#8b1c24", "#f5a04a"]}}}},
          {"data": {"name": "specD"}, "mark": {"type": "text", "align": "right", "fontSize": 12, "dx": -6.5, "color": "#1c3553"},
           "encoding": {"text": {"field": "t"}}},
          {"data": {"name": "specD"}, "mark": {"type": "text", "align": "right", "fontSize": 12, "fontStyle": "italic", "color": "#1c3553", "text": "s"},
           "encoding": {}}
        ],
        "resolve": {"scale": {"color": "independent"}}
      },
      {
        "width": 133, "height": 167, "title": "e",
        "encoding": {
          "x": {"field": "x", "type": "quantitative", "scale": {"domain": [408, 396], "nice": false, "zero": false}, "axis": {"values": [408, 404, 400, 396], "title": "Binding energy (eV)"}},
          "y": {"field": "y", "type": "quantitative", "scale": {"domain": [0, 167], "nice": false, "zero": false}, "axis": {"title": "Intensity (a.u.)"}}
        },
        "layer": [
          {"data": {"name": "xpsE"}, "transform": [{"filter": "datum.k == 'sat'"}], "mark": {"type": "area", "interpolate": "monotone", "fillOpacity": 0.65, "fill": {"gradient": "linear", "x1": 0, "y1": 0, "x2": 0, "y2": 1, "stops": [{"offset": 0, "color": "#f6c18e"}, {"offset": 1, "color": "#fdf3ea"}]}},
           "encoding": {"y2": {"field": "b"}, "detail": {"field": "g"}}},
          {"data": {"name": "xpsE"}, "transform": [{"filter": "datum.k == 'NCO'"}], "mark": {"type": "area", "interpolate": "monotone", "fillOpacity": 0.65, "fill": {"gradient": "linear", "x1": 0, "y1": 0, "x2": 0, "y2": 1, "stops": [{"offset": 0, "color": "#8fcfee"}, {"offset": 1, "color": "#eef5f8"}]}},
           "encoding": {"y2": {"field": "b"}, "detail": {"field": "g"}}},
          {"data": {"name": "xpsE"}, "transform": [{"filter": "datum.k == 'NC'"}], "mark": {"type": "area", "interpolate": "monotone", "fillOpacity": 0.65, "fill": {"gradient": "linear", "x1": 0, "y1": 0, "x2": 0, "y2": 1, "stops": [{"offset": 0, "color": "#d9a2bd"}, {"offset": 1, "color": "#f3eef4"}]}},
           "encoding": {"y2": {"field": "b"}, "detail": {"field": "g"}}},
          {"data": {"name": "xpsE"}, "transform": [{"filter": "datum.k != 'env'"}], "mark": {"type": "line", "strokeWidth": 1.1, "interpolate": "monotone"},
           "encoding": {"detail": {"field": "g"}, "color": {"field": "k", "type": "nominal", "legend": null, "scale": {"domain": ["NCO", "NC", "sat"], "range": ["#4ab5e2", "#9a1f2e", "#f5a45a"]}}}},
          {"data": {"name": "xpsE"}, "transform": [{"filter": "datum.k == 'env'"}], "mark": {"type": "line", "strokeWidth": 1.5, "interpolate": "monotone", "color": "#1aa086"},
           "encoding": {"detail": {"field": "g"}}},
          {"data": {"name": "headE"}, "mark": {"type": "text", "align": "left", "fontSize": 11},
           "encoding": {"text": {"field": "t"}, "color": {"field": "k", "type": "nominal", "legend": null, "scale": {"domain": ["4r", "2r"], "range": ["#33b5e5", "#f0504a"]}}}},
          {"data": {"name": "compE"}, "mark": {"type": "text", "fontSize": 11},
           "encoding": {"text": {"field": "t"}, "color": {"field": "k", "type": "nominal", "legend": null, "scale": {"domain": ["NCO", "NC"], "range": ["#3bb0e0", "#9a1f2e"]}}}},
          {"data": {"name": "specE"}, "mark": {"type": "text", "align": "right", "fontSize": 12, "dx": -6.5, "color": "#1aa086"},
           "encoding": {"text": {"field": "t"}}},
          {"data": {"name": "specE"}, "mark": {"type": "text", "align": "right", "fontSize": 12, "fontStyle": "italic", "color": "#1aa086", "text": "s"},
           "encoding": {}}
        ],
        "resolve": {"scale": {"color": "independent"}}
      },
      {
        "width": 134, "height": 167, "title": "f",
        "encoding": {
          "x": {"field": "x", "type": "quantitative", "scale": {"domain": [539, 527.2], "nice": false, "zero": false}, "axis": {"values": [537, 534, 531, 528], "title": "Binding energy (eV)"}},
          "y": {"field": "y", "type": "quantitative", "scale": {"domain": [0, 167], "nice": false, "zero": false}, "axis": {"title": "Intensity (a.u.)", "titlePadding": 10}}
        },
        "layer": [
          {"data": {"name": "xpsF"}, "transform": [{"filter": "datum.k == 'CO'"}], "mark": {"type": "area", "interpolate": "monotone", "fillOpacity": 0.65, "fill": {"gradient": "linear", "x1": 0, "y1": 0, "x2": 0, "y2": 1, "stops": [{"offset": 0, "color": "#f29aa6"}, {"offset": 1, "color": "#f6eef0"}]}},
           "encoding": {"y2": {"field": "b"}, "detail": {"field": "g"}}},
          {"data": {"name": "xpsF"}, "transform": [{"filter": "datum.k == 'CdO'"}], "mark": {"type": "area", "interpolate": "monotone", "fillOpacity": 0.65, "fill": {"gradient": "linear", "x1": 0, "y1": 0, "x2": 0, "y2": 1, "stops": [{"offset": 0, "color": "#6fd0a0"}, {"offset": 1, "color": "#eef2f0"}]}},
           "encoding": {"y2": {"field": "b"}, "detail": {"field": "g"}}},
          {"data": {"name": "xpsF"}, "transform": [{"filter": "datum.k != 'env'"}], "mark": {"type": "line", "strokeWidth": 1.1, "interpolate": "monotone"},
           "encoding": {"detail": {"field": "g"}, "color": {"field": "k", "type": "nominal", "legend": null, "scale": {"domain": ["CO", "CdO"], "range": ["#f0605a", "#15947a"]}}}},
          {"data": {"name": "xpsF"}, "transform": [{"filter": "datum.k == 'env'"}], "mark": {"type": "line", "strokeWidth": 1.5, "interpolate": "monotone", "color": "#1f7fcf"},
           "encoding": {"detail": {"field": "g"}}},
          {"data": {"name": "headF"}, "mark": {"type": "text", "align": "left", "fontSize": 11},
           "encoding": {"text": {"field": "t"}, "color": {"field": "k", "type": "nominal", "legend": null, "scale": {"domain": ["4r", "2r"], "range": ["#33b5e5", "#f0504a"]}}}},
          {"data": {"name": "compF"}, "mark": {"type": "text", "fontSize": 11},
           "encoding": {"text": {"field": "t"}, "color": {"field": "k", "type": "nominal", "legend": null, "scale": {"domain": ["CO", "CdO"], "range": ["#f0504a", "#15947a"]}}}},
          {"data": {"name": "specF"}, "mark": {"type": "text", "align": "right", "fontSize": 12, "dx": -6.5, "color": "#1f7fcf"},
           "encoding": {"text": {"field": "t"}}},
          {"data": {"name": "specF"}, "mark": {"type": "text", "align": "right", "fontSize": 12, "fontStyle": "italic", "color": "#1f7fcf", "text": "s"},
           "encoding": {}}
        ],
        "resolve": {"scale": {"color": "independent"}}
      }
    ],
    "spacing": 44, "bounds": "flush"
  }
],
"spacing": 15
}
